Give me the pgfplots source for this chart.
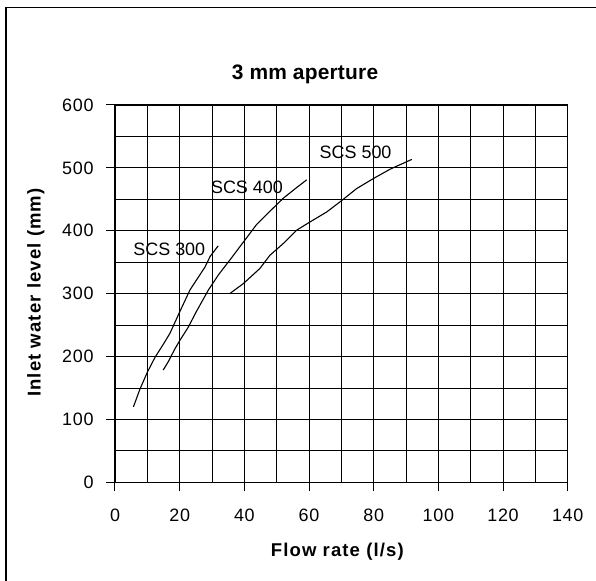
\documentclass[border=0pt]{standalone}
\usepackage{fontspec}
\setmainfont{Liberation Sans}
\newfontfamily\lblfont[LetterSpace=6]{Liberation Sans}
\newfontfamily\ttlfont[LetterSpace=1]{Liberation Sans}
\newfontfamily\tickfont[LetterSpace=4]{Liberation Sans}
\usepackage{pgfplots}
\pgfplotsset{compat=1.18}
\begin{document}
\begin{tikzpicture}[x=1bp,y=1bp]
\path[use as bounding box] (-115,-98.7) rectangle (481,482.3);
\draw[line width=1.2bp] (-109,-98.7) -- (-109,475) -- (481,475);
\node[anchor=base west, inner sep=0pt] at (116.7,402.3) {\ttlfont\bfseries\fontsize{21}{25}\selectfont 3 mm aperture};
\node[anchor=base west, inner sep=0pt] at (155.7,-74.4) {\lblfont\bfseries\fontsize{18.6}{22}\selectfont Flow rate (l/s)};
\node[anchor=base west, inner sep=0pt, rotate=90] at (-74.3,85.3) {\lblfont\bfseries\fontsize{18.6}{22}\selectfont Inlet water level (mm)};
\begin{axis}[at={(0,0)}, anchor=south west, scale only axis,
  width=452.7bp, height=377.3bp,
  xmin=0, xmax=140, ymin=0, ymax=600,
  xtick={0,20,...,140}, ytick={0,100,...,600},
  minor xtick={10,30,...,130}, minor ytick={50,150,...,550},
  grid=both,
  major grid style={black, line width=0.8bp},
  minor grid style={black, line width=0.8bp},
  tick align=outside, tick pos=left,
  major tick length=9bp, minor tick length=0pt,
  major tick style={black, line width=1bp},
  axis line style={black, line width=1.2bp},
  /pgf/number format/assume math mode=true,
  ticklabel style={font=\tickfont\fontsize{18}{21}\selectfont},
  xticklabel style={yshift=-14bp},
  yticklabel style={xshift=-9bp},
  clip=false]
\addplot[black, line width=1.1bp] coordinates {
(5.7,120) (7.7,148) (10,175) (12.4,199) (15,220) (17,237) (20.1,272) (23.2,306) (26,328) (27.8,342) (29.4,359) (31.9,376)};
\addplot[black, line width=1.1bp] coordinates {
(14.9,178.5) (16.5,192) (18.5,212) (20.1,226) (22.7,247) (25,270) (28.9,306) (32,330) (35.6,354) (39.7,382) (43.8,410) (47.9,431) (52.1,452) (56,468) (59.3,481)};
\addplot[black, line width=1.1bp] coordinates {
(35.6,300.5) (39.7,316) (44.8,340) (47.9,361) (52.1,380) (56.2,401) (60.3,414) (65.5,430) (69.6,446) (74.7,467) (79.9,483) (85.1,498) (91.8,513.5)};
\node[font=\fontsize{18}{21}\selectfont] at (axis cs:16.8,370.4) {SCS 300};
\node[font=\fontsize{18}{21}\selectfont] at (axis cs:40.8,468.4) {SCS 400};
\node[font=\fontsize{18}{21}\selectfont] at (axis cs:74.4,524) {SCS 500};
\end{axis}
\end{tikzpicture}
\end{document}
